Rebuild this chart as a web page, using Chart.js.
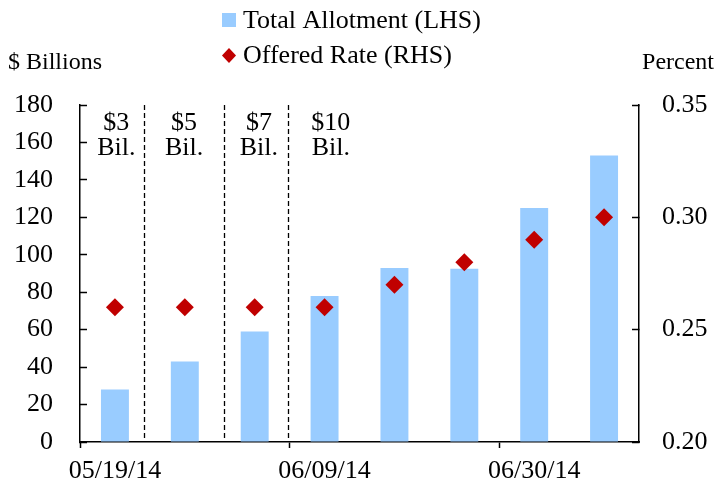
<!DOCTYPE html>
<html>
<head>
<meta charset="utf-8">
<script src="https://cdn.jsdelivr.net/npm/chart.js@4.4.1/dist/chart.umd.min.js"></script>
<style>
  body { margin: 0; background: #fff; }
</style>
</head>
<body>
<canvas id="allotChart" width="728" height="485"></canvas>
<script>
// weekly operations
const weeks = ['05/19/14', '05/26/14', '06/02/14', '06/09/14', '06/16/14', '06/23/14', '06/30/14', '07/07/14'];
const allotment = [28, 43, 59, 78, 93, 92.5, 125, 153];
const offeredRate = [0.26, 0.26, 0.26, 0.26, 0.27, 0.28, 0.29, 0.30];

// per-counterparty cap periods (positions in category units)
const capLabels = ['$3', '$5', '$7', '$10'];
const capLabelAt = [0.02, 0.99, 2.06, 3.09];
const capDividers = [0.41, 1.56, 2.48];

const leftMin = 0, leftMax = 180, leftStep = 20;
const rightMin = 0.20, rightMax = 0.35, rightStep = 0.05;

const SERIF = '"Liberation Serif", "Times New Roman", serif';
const BLUE = '#99CCFF';
const RED = '#C00000';

const extras = {
  id: 'extras',
  beforeDatasetsDraw(chart) {
    const { ctx, chartArea, scales } = chart;
    ctx.save();
    ctx.strokeStyle = '#000';
    ctx.lineWidth = 1.3;
    ctx.setLineDash([5, 3]);
    capDividers.forEach(v => {
      const x = Math.round(scales.x.getPixelForValue(v)) + 0.5;
      ctx.beginPath();
      ctx.moveTo(x, chartArea.top);
      ctx.lineTo(x, chartArea.bottom);
      ctx.stroke();
    });
    ctx.setLineDash([]);
    ctx.fillStyle = '#000';
    ctx.font = '26px ' + SERIF;
    ctx.textAlign = 'center';
    ctx.textBaseline = 'alphabetic';
    capLabels.forEach((t, i) => {
      const x = scales.x.getPixelForValue(capLabelAt[i]);
      ctx.fillText(t, x, chartArea.top + 25);
      ctx.fillText('Bil.', x, chartArea.top + 50);
    });
    ctx.restore();
  },
  afterDraw(chart) {
    const { ctx } = chart;
    const ds = chart.data.datasets;
    ctx.save();
    ctx.font = '26px ' + SERIF;
    ctx.fillStyle = '#000';
    ctx.textBaseline = 'middle';
    // legend
    ctx.fillStyle = ds[0].backgroundColor;
    ctx.fillRect(222, 13, 14, 14);
    ctx.fillStyle = ds[1].backgroundColor;
    ctx.beginPath();
    ctx.moveTo(229, 48);
    ctx.lineTo(236, 55.5);
    ctx.lineTo(229, 63);
    ctx.lineTo(222, 55.5);
    ctx.closePath();
    ctx.fill();
    ctx.fillStyle = '#000';
    ctx.textAlign = 'left';
    ctx.fillText(ds[0].label, 243, 21);
    ctx.fillText(ds[1].label, 243, 56);
    // axis units
    ctx.font = '24px ' + SERIF;
    ctx.fillText('$ Billions', 8, 63);
    ctx.textAlign = 'right';
    ctx.fillText('Percent', 714, 63);
    ctx.restore();
  }
};

// keep the y-axis label padding from pushing the plot area around
const fixY = w => s => { s.width = w; s.paddingTop = 0; s.paddingBottom = 0; };

new Chart(document.getElementById('allotChart'), {
  data: {
    labels: weeks,
    datasets: [
      {
        type: 'bar',
        label: 'Total Allotment (LHS)',
        data: allotment,
        yAxisID: 'y',
        backgroundColor: BLUE,
        categoryPercentage: 1,
        barPercentage: 0.4,
        order: 1
      },
      {
        type: 'line',
        label: 'Offered Rate (RHS)',
        data: offeredRate,
        yAxisID: 'y1',
        showLine: false,
        pointStyle: 'rectRot',
        pointRadius: 9,
        pointHoverRadius: 9,
        backgroundColor: RED,
        borderColor: RED,
        borderWidth: 0,
        order: 0
      }
    ]
  },
  options: {
    responsive: false,
    animation: false,
    layout: { padding: { top: 105, left: 0, right: 0, bottom: 0 } },
    plugins: {
      legend: { display: false },
      tooltip: { enabled: false }
    },
    scales: {
      x: {
        offset: true,
        grid: {
          offset: true,
          drawOnChartArea: false,
          tickLength: 6,
          tickWidth: 1.5,
          tickColor: c => (c.index % 3 === 0 ? '#000' : 'rgba(0,0,0,0)')
        },
        border: { display: true, color: '#000', width: 1.5 },
        ticks: {
          autoSkip: false,
          maxRotation: 0,
          padding: 8,
          color: '#000',
          font: { family: SERIF, size: 26 },
          callback: function (v, i) { return i % 3 === 0 ? this.getLabelForValue(v) : ''; }
        },
        afterFit: s => { s.height = 43; }
      },
      y: {
        position: 'left',
        min: leftMin,
        max: leftMax,
        grid: { drawOnChartArea: false, tickLength: -7, tickWidth: 1.5, tickColor: '#000' },
        border: { display: true, color: '#000', width: 1.5 },
        ticks: {
          stepSize: leftStep,
          padding: 34,
          color: '#000',
          font: { family: SERIF, size: 26 }
        },
        afterFit: fixY(80)
      },
      y1: {
        position: 'right',
        min: rightMin,
        max: rightMax,
        grid: { drawOnChartArea: false, tickLength: -7, tickWidth: 1.5, tickColor: '#000' },
        border: { display: true, color: '#000', width: 1.5 },
        ticks: {
          stepSize: rightStep,
          padding: 30,
          color: '#000',
          font: { family: SERIF, size: 26 },
          callback: v => v.toFixed(2)
        },
        afterFit: fixY(89)
      }
    }
  },
  plugins: [extras]
});
</script>
</body>
</html>
